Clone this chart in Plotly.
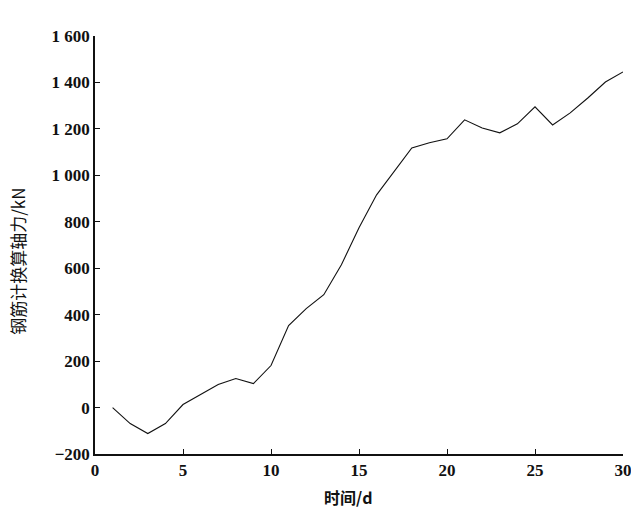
import plotly.graph_objects as go

days = list(range(1, 31))
force = [0, -69, -112, -69, 13, 56, 99, 125, 103, 181,
         353, 426, 486, 615, 774, 916, 1015, 1118, 1140, 1157,
         1239, 1204, 1183, 1222, 1295, 1217, 1269, 1333, 1402, 1445]

x_ticks = [0, 5, 10, 15, 20, 25, 30]
y_ticks = [-200, 0, 200, 400, 600, 800, 1000, 1200, 1400, 1600]
y_tick_text = ["−200", "0", "200", "400", "600", "800", "1 000", "1 200", "1 400", "1 600"]
x_title = "时间/d"
y_title = "钢筋计换算轴力/kN"

fig = go.Figure()
fig.add_trace(go.Scatter(x=days, y=force, mode="lines",
                         line=dict(color="#111111", width=1.1), showlegend=False))

tickfont = dict(family="Liberation Serif", size=17, color="#111111", weight="bold")
fig.update_layout(
    width=631, height=510,
    margin=dict(l=95, r=8, t=36, b=56),
    paper_bgcolor="white", plot_bgcolor="white",
    xaxis=dict(range=[0, 30], tickvals=x_ticks, ticks="inside", ticklen=5, automargin=False,
               ticklabeloverflow="allow",
               tickcolor="#111111", showline=True, linecolor="#111111", linewidth=1.5,
               showgrid=False, zeroline=False, tickfont=tickfont),
    yaxis=dict(range=[-200, 1600], tickvals=y_ticks, ticktext=y_tick_text, ticks="inside", ticklen=5, automargin=False,
               ticklabeloverflow="allow",
               tickcolor="#111111", showline=True, linecolor="#111111", linewidth=1.5,
               showgrid=False, zeroline=False, tickfont=tickfont),
)
fig.add_annotation(text=x_title, xref="paper", yref="paper", x=0.481, y=-0.102,
                   showarrow=False, xanchor="center", yanchor="middle",
                   font=dict(family="Noto Sans CJK SC, Liberation Serif", size=16, color="#111111", weight="bold"))
fig.add_annotation(text=y_title, xref="paper", yref="paper", x=-0.146, y=0.462,
                   showarrow=False, xanchor="center", yanchor="middle", textangle=-90,
                   font=dict(family="Noto Sans CJK SC, Liberation Serif", size=17, color="#111111"))
fig.write_html("out.html")
